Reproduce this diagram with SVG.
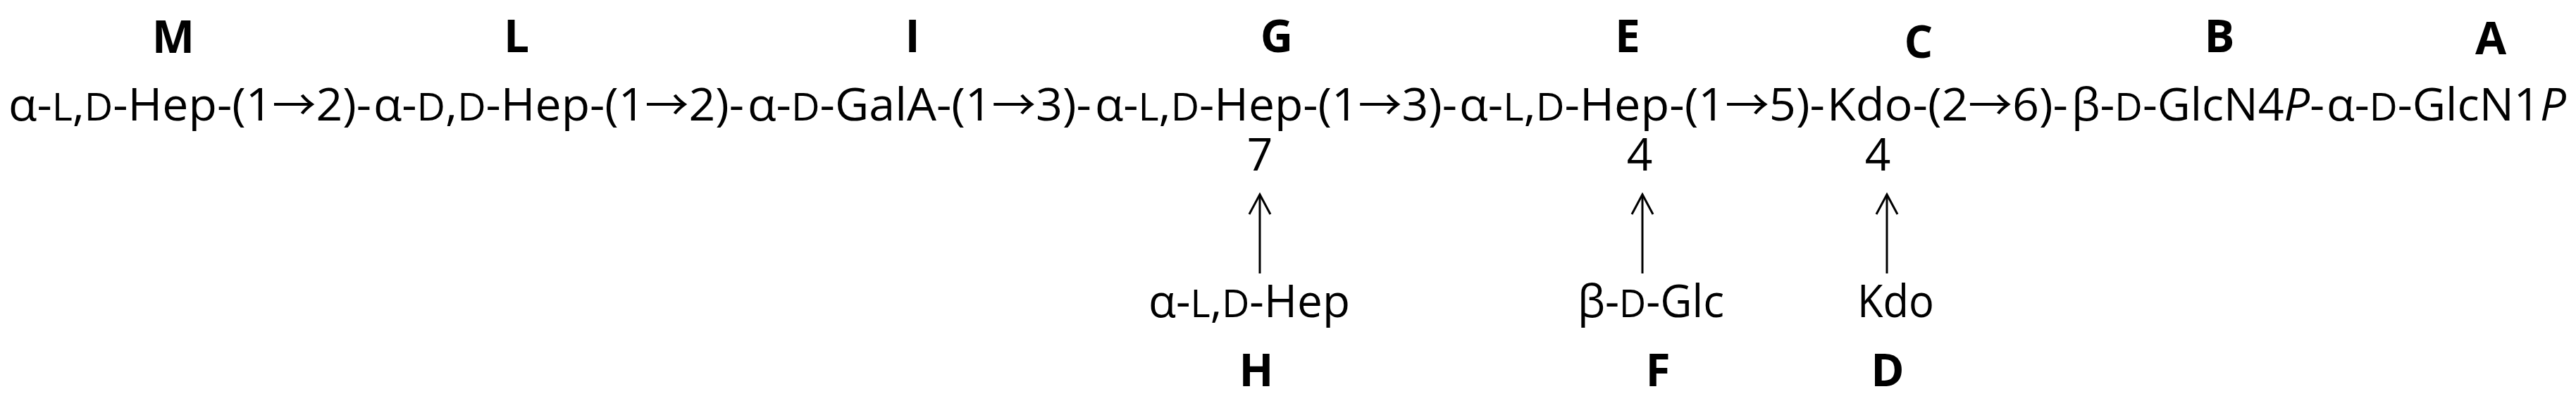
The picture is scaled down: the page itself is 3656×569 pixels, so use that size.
<svg xmlns="http://www.w3.org/2000/svg" width="3656" height="569" viewBox="0 0 3656 569">
<style>
  text { font-family: "Open Sans", "DejaVu Sans", sans-serif; fill: #000; }
  .main { font-size: 64px; }
  .sc { font-size: 54px; }
  .it { font-style: italic; }
  .ar { font-family: "Noto Sans CJK JP", "DejaVu Sans", sans-serif; font-size: 60px; }
  .lbl { font-size: 64px; font-weight: bold; text-anchor: middle; }
  .num { font-size: 64px; text-anchor: middle; }
  .conn { stroke: #000; stroke-width: 3; fill: none; }
</style>
<defs>
  <marker id="ah" markerUnits="userSpaceOnUse" markerWidth="40" markerHeight="40" viewBox="-20 -2 40 40" refX="0" refY="0" orient="0" overflow="visible">
    <path d="M-15,28 L0,0 L15,28" stroke="#000" stroke-width="3" fill="none"/>
  </marker>
</defs>
<rect width="3656" height="569" fill="#fff"/>

<g id="node-M">
  <text class="lbl" x="246" y="75">M</text>
  <text class="main" x="12" y="171" textLength="515" lengthAdjust="spacingAndGlyphs">α-<tspan class="sc">L</tspan>,<tspan class="sc">D</tspan>-Hep-(1<tspan class="ar">→</tspan>2)-</text>
</g>
<g id="node-L">
  <text class="lbl" x="733" y="74">L</text>
  <text class="main" x="530" y="171" textLength="526" lengthAdjust="spacingAndGlyphs">α-<tspan class="sc">D</tspan>,<tspan class="sc">D</tspan>-Hep-(1<tspan class="ar">→</tspan>2)-</text>
</g>
<g id="node-I">
  <text class="lbl" x="1295" y="74">I</text>
  <text class="main" x="1061" y="171" textLength="488" lengthAdjust="spacingAndGlyphs">α-<tspan class="sc">D</tspan>-GalA-(1<tspan class="ar">→</tspan>3)-</text>
</g>
<g id="node-G">
  <text class="lbl" x="1812" y="74">G</text>
  <text class="main" x="1554" y="171" textLength="514" lengthAdjust="spacingAndGlyphs">α-<tspan class="sc">L</tspan>,<tspan class="sc">D</tspan>-Hep-(1<tspan class="ar">→</tspan>3)-</text>
  <text class="num" x="1788" y="242">7</text>
</g>
<g id="node-E">
  <text class="lbl" x="2310" y="74">E</text>
  <text class="main" x="2071" y="171" textLength="519" lengthAdjust="spacingAndGlyphs">α-<tspan class="sc">L</tspan>,<tspan class="sc">D</tspan>-Hep-(1<tspan class="ar">→</tspan>5)-</text>
  <text class="num" x="2327" y="242">4</text>
</g>
<g id="node-C">
  <text class="lbl" x="2723" y="82">C</text>
  <text class="main" x="2593" y="171" textLength="342" lengthAdjust="spacingAndGlyphs">Kdo-(2<tspan class="ar">→</tspan>6)-</text>
  <text class="num" x="2665" y="242">4</text>
</g>
<g id="node-B">
  <text class="lbl" x="3150" y="74">B</text>
  <text class="main" x="2940" y="171" textLength="359" lengthAdjust="spacingAndGlyphs">β-<tspan class="sc">D</tspan>-GlcN4<tspan class="it">P</tspan>-</text>
</g>
<g id="node-A">
  <text class="lbl" x="3535" y="77">A</text>
  <text class="main" x="3302" y="171" textLength="340" lengthAdjust="spacingAndGlyphs">α-<tspan class="sc">D</tspan>-GlcN1<tspan class="it">P</tspan></text>
</g>
<g id="node-H">
  <text class="main" x="1630" y="450" textLength="286" lengthAdjust="spacingAndGlyphs">α-<tspan class="sc">L</tspan>,<tspan class="sc">D</tspan>-Hep</text>
  <text class="lbl" x="1783" y="548">H</text>
</g>
<g id="node-F">
  <text class="main" x="2239" y="450" textLength="208" lengthAdjust="spacingAndGlyphs">β-<tspan class="sc">D</tspan>-Glc</text>
  <text class="lbl" x="2353" y="548">F</text>
</g>
<g id="node-D">
  <text class="main" x="2636" y="450" textLength="109" lengthAdjust="spacingAndGlyphs">Kdo</text>
  <text class="lbl" x="2679" y="548">D</text>
</g>

<g id="connectors">
  <line class="conn" x1="1788" y1="388" x2="1788" y2="276" marker-end="url(#ah)"/>
  <line class="conn" x1="2331" y1="388" x2="2331" y2="276" marker-end="url(#ah)"/>
  <line class="conn" x1="2678" y1="388" x2="2678" y2="276" marker-end="url(#ah)"/>
</g>
</svg>
